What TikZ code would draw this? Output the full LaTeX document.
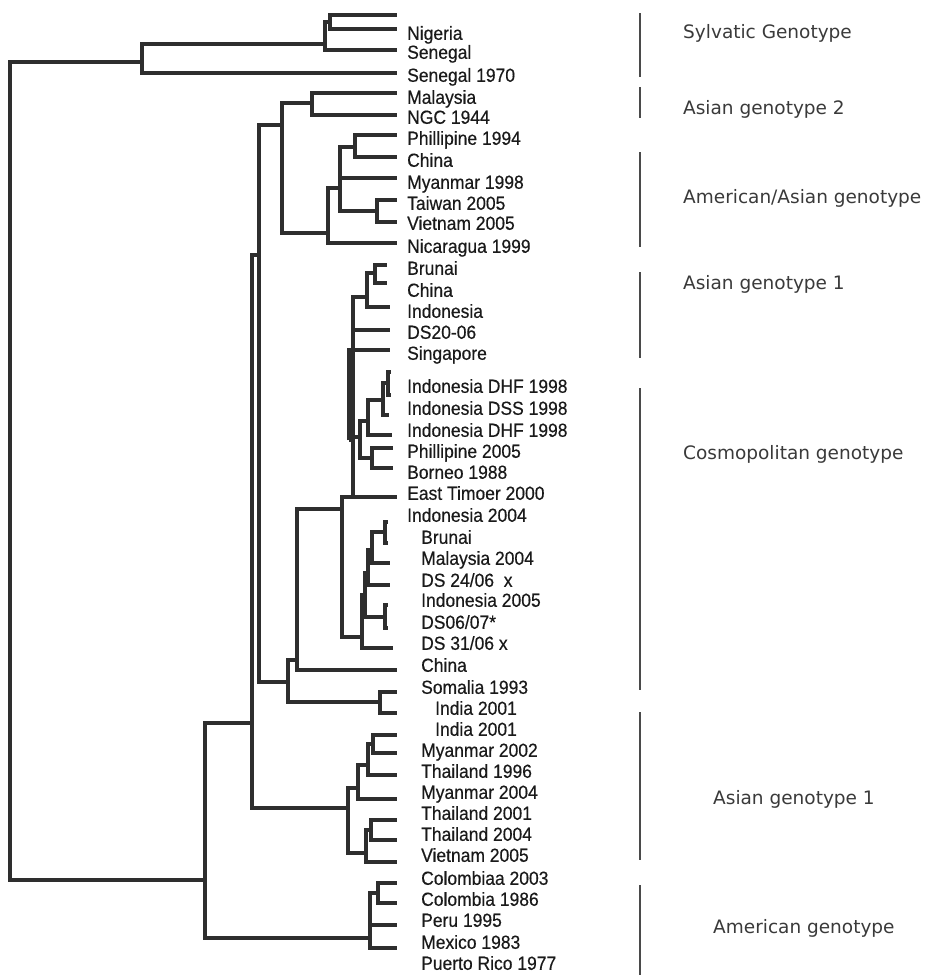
\documentclass[tikz,border=0pt]{standalone}
\usepackage{fontspec}
\setmainfont{Liberation Sans}
\newfontfamily\leaffont[FakeStretch=0.92,FakeBold=0.4]{Liberation Sans}
\newfontfamily\cladefont{DejaVu Sans}
\usepackage{xcolor}
\definecolor{treeln}{HTML}{2E2E2E}
\definecolor{treetx}{HTML}{1A1A1A}
\definecolor{cladebar}{HTML}{4A4A4A}
\definecolor{cladetx}{HTML}{3A3A3A}
\usepackage{tikz}

\begin{document}
\begin{tikzpicture}[x=1pt,y=-1pt,
  branch/.style={draw=treeln,line width=3.2pt},
  leaflbl/.style={anchor=west,inner sep=0pt,text height=13.6pt,text depth=0pt,text=treetx,font=\leaffont\fontsize{19}{21}\selectfont},
  cladelbl/.style={anchor=west,inner sep=0pt,text height=13.5pt,text depth=0pt,text=cladetx,font=\cladefont\fontsize{18.5}{22}\selectfont},
  bar/.style={draw=cladebar,line width=1.6pt}]
\useasboundingbox[fill=white] (0,0) rectangle (933,975);

% internal nodes
\coordinate (root) at (10,470);
\coordinate (sylv) at (142,62);
\coordinate (sylvA) at (325,44);
\coordinate (sylvB) at (330,22);
\coordinate (rest) at (205,880);
\coordinate (asiaCos) at (252,723);
\coordinate (asAm) at (259,255);
\coordinate (amAs) at (282,125);
\coordinate (asTwo) at (312,103);
\coordinate (amAsC) at (328,233);
\coordinate (amAsD) at (340,188);
\coordinate (amAsE) at (355,147);
\coordinate (amAsF) at (377,211);
\coordinate (cosmo) at (288,682);
\coordinate (somInd) at (380,702);
\coordinate (cosmoA) at (297,660);
\coordinate (cosmoB) at (342,509);
\coordinate (asOne) at (353,497);
\coordinate (asOneA) at (367,297);
\coordinate (asOneB) at (375,273);
\coordinate (asOneC) at (349,440);
\coordinate (indA) at (360,437);
\coordinate (indB) at (368,421);
\coordinate (indC) at (383,400);
\coordinate (indD) at (388,383);
\coordinate (philBor) at (372,458);
\coordinate (dsA) at (362,637);
\coordinate (dsB) at (365,595);
\coordinate (dsC) at (368,573);
\coordinate (dsD) at (372,550);
\coordinate (dsE) at (385,532);
\coordinate (dsF) at (385,617);
\coordinate (asOneBot) at (348,808);
\coordinate (thA) at (358,788);
\coordinate (thB) at (368,765);
\coordinate (thC) at (373,744);
\coordinate (thD) at (366,853);
\coordinate (thE) at (371,830);
\coordinate (amer) at (370,938);
\coordinate (colo) at (378,893);

% branch tips
\foreach \n/\x/\y in {tUnl/397/15, tNig/397/29, tSen/397/50, tSen70/397/73,
  tMal/397/93, tNgc/397/115, tPhil94/397/135, tChiA/397/157, tMya98/397/178,
  tTai/397/200, tVieA/397/222, tNic/397/243,
  tBruA/387/265, tChiB/387/283, tIndo/390/307, tDs20/390/330, tSing/390/350,
  tDhfA/391/372, tDss/391/395, tDhfB/389/415, tDhfC/392/435,
  tPhil05/393/448, tBor/393/468, tTim/397/497,
  tIndo04/388/522, tBruB/388/543, tMal04/390/563, tDs24/390/585,
  tIndo05/388/605, tDs06/388/628, tDs31/393/648,
  tChiC/397/670, tSom/397/692, tIndiaA/397/713,
  tIndiaB/397/735, tMya02/397/753, tTha96/397/775, tMya04/397/799,
  tTha01/397/820, tTha04/397/840, tVieB/397/862,
  tCol03/397/883, tCol86/397/903, tPeru/397/925, tMex/397/948}
  \coordinate (\n) at (\x,\y);

% branches
\foreach \p/\c in {root/sylv, root/rest,
  sylv/sylvA, sylv/tSen70, sylvA/sylvB, sylvA/tSen, sylvB/tUnl, sylvB/tNig,
  rest/asiaCos, rest/amer, asiaCos/asAm, asiaCos/asOneBot,
  asAm/amAs, asAm/cosmo, amAs/asTwo, amAs/amAsC, asTwo/tMal, asTwo/tNgc,
  amAsC/amAsD, amAsC/tNic, amAsD/amAsE, amAsD/tMya98, amAsD/amAsF,
  amAsE/tPhil94, amAsE/tChiA, amAsF/tTai, amAsF/tVieA,
  cosmo/cosmoA, cosmo/somInd, somInd/tSom, somInd/tIndiaA,
  cosmoA/cosmoB, cosmoA/tChiC, cosmoB/asOne, cosmoB/dsA,
  asOne/asOneA, asOne/tDs20, asOne/asOneC, asOne/tTim,
  asOneA/asOneB, asOneA/tIndo, asOneB/tBruA, asOneB/tChiB,
  asOneC/tSing, asOneC/indA, indA/indB, indA/philBor,
  indB/indC, indB/tDhfC, indC/indD, indC/tDhfB, indD/tDhfA, indD/tDss,
  philBor/tPhil05, philBor/tBor,
  dsA/dsB, dsA/tDs31, dsB/dsC, dsB/dsF, dsC/dsD, dsC/tDs24,
  dsD/dsE, dsD/tMal04, dsE/tIndo04, dsE/tBruB, dsF/tIndo05, dsF/tDs06,
  asOneBot/thA, asOneBot/thD, thA/thB, thA/tMya04, thB/thC, thB/tTha96,
  thC/tIndiaB, thC/tMya02, thD/thE, thD/tVieB, thE/tTha01, thE/tTha04,
  amer/colo, amer/tPeru, amer/tMex, colo/tCol03, colo/tCol86}
  \draw[branch] (\p) |- (\c);

% leaf labels
\node[leaflbl] (lNig) at (407,33) {Nigeria};
\node[leaflbl] (lSen) at (407,52) {Senegal};
\node[leaflbl] (lSen70) at (407,75) {Senegal 1970};
\node[leaflbl] (lMal) at (407,97) {Malaysia};
\node[leaflbl] (lNgc) at (407,117) {NGC 1944};
\node[leaflbl] (lPhil94) at (407,138) {Phillipine 1994};
\node[leaflbl] (lChiA) at (407,160) {China};
\node[leaflbl] (lMya98) at (407,182) {Myanmar 1998};
\node[leaflbl] (lTai) at (407,203) {Taiwan 2005};
\node[leaflbl] (lVieA) at (407,223) {Vietnam 2005};
\node[leaflbl] (lNic) at (407,246) {Nicaragua 1999};
\node[leaflbl] (lBruA) at (407,268) {Brunai};
\node[leaflbl] (lChiB) at (407,290) {China};
\node[leaflbl] (lIndo) at (407,311) {Indonesia};
\node[leaflbl] (lDs20) at (407,332) {DS20-06};
\node[leaflbl] (lSing) at (407,353) {Singapore};
\node[leaflbl] (lDhfA) at (407,386) {Indonesia DHF 1998};
\node[leaflbl] (lDss) at (407,408) {Indonesia DSS 1998};
\node[leaflbl] (lDhfB) at (407,430) {Indonesia DHF 1998};
\node[leaflbl] (lPhil05) at (407,451) {Phillipine 2005};
\node[leaflbl] (lBor) at (407,472) {Borneo 1988};
\node[leaflbl] (lTim) at (407,493) {East Timoer 2000};
\node[leaflbl] (lIndo04) at (407,515) {Indonesia 2004};
\node[leaflbl] (lBruB) at (421,537) {Brunai};
\node[leaflbl] (lMal04) at (421,558) {Malaysia 2004};
\node[leaflbl] (lDs24) at (421,580) {DS 24/06 ~x};
\node[leaflbl] (lIndo05) at (421,600) {Indonesia 2005};
\node[leaflbl] (lDs06) at (421,622) {DS06/07*};
\node[leaflbl] (lDs31) at (421,643) {DS 31/06 x};
\node[leaflbl] (lChiC) at (421,665) {China};
\node[leaflbl] (lSom) at (421,687) {Somalia 1993};
\node[leaflbl] (lIndiaA) at (435,708) {India 2001};
\node[leaflbl] (lIndiaB) at (435,729) {India 2001};
\node[leaflbl] (lMya02) at (421,750) {Myanmar 2002};
\node[leaflbl] (lTha96) at (421,771) {Thailand 1996};
\node[leaflbl] (lMya04) at (421,792) {Myanmar 2004};
\node[leaflbl] (lTha01) at (421,813) {Thailand 2001};
\node[leaflbl] (lTha04) at (421,834) {Thailand 2004};
\node[leaflbl] (lVieB) at (421,855) {Vietnam 2005};
\node[leaflbl] (lCol03) at (421,878) {Colombiaa 2003};
\node[leaflbl] (lCol86) at (421,899) {Colombia 1986};
\node[leaflbl] (lPeru) at (421,920) {Peru 1995};
\node[leaflbl] (lMex) at (421,942) {Mexico 1983};
\node[leaflbl] (lPuer) at (421,963) {Puerto Rico 1977};

% genotype brackets
\foreach \a/\b in {13/77, 87/118, 152/247, 272/358, 388/690, 712/860, 885/975}
  \draw[bar] (640,\a) -- (640,\b);
\node[cladelbl] (gSylv) at (683,32) {Sylvatic Genotype};
\node[cladelbl] (gAsTwo) at (683,108) {Asian genotype 2};
\node[cladelbl] (gAmAs) at (683,197) {American/Asian genotype};
\node[cladelbl] (gAsOne) at (683,283) {Asian genotype 1};
\node[cladelbl] (gCosmo) at (683,453) {Cosmopolitan genotype};
\node[cladelbl] (gAsOneB) at (713,798) {Asian genotype 1};
\node[cladelbl] (gAmer) at (713,927) {American genotype};
\end{tikzpicture}
\end{document}
